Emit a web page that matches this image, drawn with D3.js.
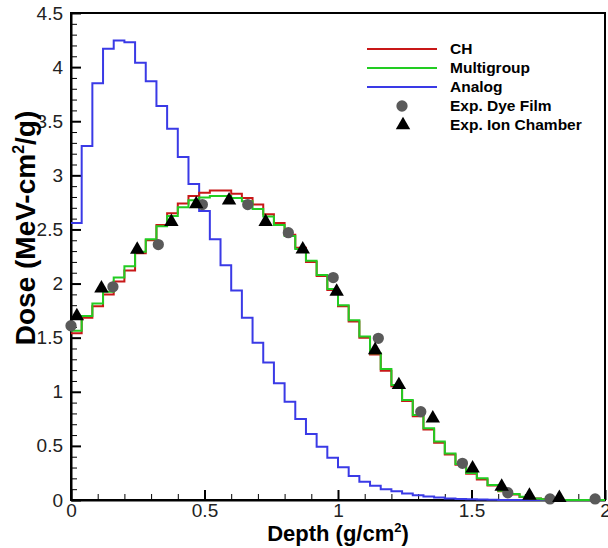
<!DOCTYPE html>
<html>
<head>
<meta charset="utf-8">
<script src="https://cdn.jsdelivr.net/npm/d3@7"></script>
<style>
  html, body { margin: 0; padding: 0; background: #fff; }
  svg { display: block; font-family: "Liberation Sans", Arial, Helvetica, sans-serif; }
</style>
</head>
<body>
<svg id="chart" width="608" height="548"></svg>
<script>
// ---------- data ----------
const binWidth = 0.04; // g/cm^2
const chDose = [1.54, 1.685, 1.79, 1.90, 2.02, 2.12, 2.28, 2.40, 2.54, 2.65,
  2.74, 2.81, 2.84, 2.86, 2.86, 2.83, 2.79, 2.73, 2.64, 2.56,
  2.45, 2.33, 2.20, 2.07, 1.94, 1.79, 1.65, 1.50, 1.345, 1.195,
  1.05, 0.915, 0.775, 0.652, 0.53, 0.42, 0.325, 0.243, 0.19, 0.133,
  0.082, 0.05, 0.028, 0.014, 0.007, 0.003, 0, 0, 0, 0];
const multigroupDose = [1.565, 1.70, 1.815, 1.925, 2.055, 2.16, 2.295, 2.41, 2.53, 2.625,
  2.705, 2.77, 2.795, 2.81, 2.81, 2.79, 2.76, 2.69, 2.62, 2.54,
  2.44, 2.32, 2.21, 2.08, 1.95, 1.80, 1.66, 1.51, 1.356, 1.21,
  1.063, 0.924, 0.786, 0.663, 0.54, 0.43, 0.333, 0.25, 0.20, 0.139,
  0.086, 0.055, 0.03, 0.015, 0.008, 0.004, 0, 0, 0, 0];
const analogDose = [2.56, 3.27, 3.85, 4.17, 4.245, 4.23, 4.04, 3.87, 3.64, 3.43,
  3.17, 2.92, 2.67, 2.41, 2.17, 1.935, 1.685, 1.454, 1.27, 1.078,
  0.909, 0.749, 0.61, 0.493, 0.391, 0.302, 0.222, 0.169, 0.132, 0.10,
  0.08, 0.06, 0.045, 0.032, 0.022, 0.015, 0.01, 0.006, 0.004, 0.002,
  0, 0, 0, 0, 0, 0, 0, 0, 0, 0];
const dyeFilmDepth = [0.0, 0.157, 0.327, 0.492, 0.662, 0.814, 0.982, 1.151, 1.31, 1.466, 1.636, 1.794, 1.963];
const dyeFilmDose  = [1.61, 1.97, 2.36, 2.73, 2.73, 2.47, 2.055, 1.494, 0.816, 0.339, 0.067, 0.01, 0.01];
const ionDepth = [0.022, 0.114, 0.248, 0.376, 0.469, 0.592, 0.729, 0.868, 0.995, 1.139, 1.228, 1.355, 1.504, 1.613, 1.717, 1.829];
const ionDose  = [1.70, 1.955, 2.315, 2.57, 2.735, 2.77, 2.57, 2.317, 1.925, 1.386, 1.063, 0.755, 0.293, 0.123, 0.04, 0.02];
const xTicks = [0, 0.5, 1, 1.5, 2];
const yTicks = [0, 0.5, 1, 1.5, 2, 2.5, 3, 3.5, 4, 4.5];
const legendLabels = ["CH", "Multigroup", "Analog", "Exp. Dye Film", "Exp. Ion Chamber"];

// ---------- layout ----------
const svg = d3.select("#chart");
const m = {left: 71, right: 3, top: 13, bottom: 48};
const W = 608, H = 548;
const x = d3.scaleLinear().domain([0, 2]).range([m.left, W - m.right]);
const y = d3.scaleLinear().domain([0, 4.5]).range([H - m.bottom, m.top]);

const colors = {ch: "#c81818", mg: "#22cc22", an: "#3a3ae6", dye: "#5a5a5a", ion: "#000"};

// minor ticks
const xMinor = d3.range(0, 2.0001, 0.1).filter(v => Math.abs(v*2 - Math.round(v*2)) > 1e-6);
const yMinor = d3.range(0, 4.5001, 0.1).filter(v => Math.abs(v*2 - Math.round(v*2)) > 1e-6);

const g = svg.append("g");

// frame
g.append("rect").attr("x", x(0)).attr("y", y(4.5))
  .attr("width", x(2) - x(0)).attr("height", y(0) - y(4.5))
  .attr("fill", "none").attr("stroke", "#000").attr("stroke-width", 2);

// x axis
const xAxis = d3.axisBottom(x).tickValues(xTicks).tickFormat(d3.format("")).tickSizeInner(-10).tickSizeOuter(0).tickPadding(4);
const xg = g.append("g").attr("transform", `translate(0,${y(0)})`).call(xAxis);
xg.select(".domain").attr("stroke-width", 2);
xg.selectAll(".tick line").attr("stroke-width", 2);
xg.selectAll(".tick text").attr("font-size", 19).attr("fill", "#222").attr("font-family", "Liberation Sans, Arial, sans-serif");
const xAxisMinor = d3.axisBottom(x).tickValues(xMinor).tickFormat("").tickSizeInner(-6).tickSizeOuter(0);
const xgm = g.append("g").attr("transform", `translate(0,${y(0)})`).call(xAxisMinor);
xgm.select(".domain").remove();
xgm.selectAll(".tick line").attr("stroke-width", 1);

// y axis
const yAxis = d3.axisLeft(y).tickValues(yTicks).tickFormat(d3.format("")).tickSizeInner(-10).tickSizeOuter(0).tickPadding(8);
const yg = g.append("g").attr("transform", `translate(${x(0)},0)`).call(yAxis);
yg.select(".domain").attr("stroke-width", 2);
yg.selectAll(".tick line").attr("stroke-width", 2);
yg.selectAll(".tick text").attr("font-size", 19).attr("fill", "#222").attr("font-family", "Liberation Sans, Arial, sans-serif");
const yAxisMinor = d3.axisLeft(y).tickValues(yMinor).tickFormat("").tickSizeInner(-6).tickSizeOuter(0);
const ygm = g.append("g").attr("transform", `translate(${x(0)},0)`).call(yAxisMinor);
ygm.select(".domain").remove();
ygm.selectAll(".tick line").attr("stroke-width", 1);

// axis titles
const xt = svg.append("text").attr("x", 338).attr("y", 541)
  .attr("text-anchor", "middle").attr("font-size", 22).attr("font-weight", "bold").attr("fill", "#000");
xt.append("tspan").text("Depth (g/cm");
xt.append("tspan").attr("font-size", 13).attr("dy", -9).text("2");
xt.append("tspan").attr("dy", 9).text(")");

const yt = svg.append("text").attr("transform", `translate(35,${228}) rotate(-90)`)
  .attr("text-anchor", "middle").attr("font-size", 28).attr("font-weight", "bold").attr("fill", "#000");
yt.append("tspan").text("Dose (MeV-cm");
yt.append("tspan").attr("font-size", 16).attr("dy", -11).text("2");
yt.append("tspan").attr("dy", 11).text("/g)");

// step lines
const stepLine = d3.line().x(d => x(d[0])).y(d => y(d[1])).curve(d3.curveStepAfter);
function stepData(vals) {
  const pts = vals.map((v, i) => [i * binWidth, v]);
  pts.push([vals.length * binWidth, vals[vals.length - 1]]);
  return pts;
}
const plot = svg.append("g");
plot.append("path").attr("d", stepLine(stepData(analogDose))).attr("fill", "none").attr("stroke", colors.an).attr("stroke-width", 2);
plot.append("path").attr("d", stepLine(stepData(chDose))).attr("fill", "none").attr("stroke", colors.ch).attr("stroke-width", 2);
plot.append("path").attr("d", stepLine(stepData(multigroupDose))).attr("fill", "none").attr("stroke", colors.mg).attr("stroke-width", 2);

// experimental points
const circleSym = d3.symbol().type(d3.symbolCircle).size(100);
const triSym = d3.symbol().type(d3.symbolTriangle).size(90);
plot.selectAll("path.dye").data(dyeFilmDepth.map((d, i) => [d, dyeFilmDose[i]])).join("path")
  .attr("class", "dye").attr("d", circleSym).attr("fill", colors.dye)
  .attr("transform", d => `translate(${x(d[0])},${y(d[1])})`);
plot.selectAll("path.ion").data(ionDepth.map((d, i) => [d, ionDose[i]])).join("path")
  .attr("class", "ion").attr("d", triSym).attr("fill", colors.ion)
  .attr("transform", d => `translate(${x(d[0])},${y(d[1])})`);

// legend
const leg = svg.append("g");
const legY0 = 49, legDy = 19;
const legLineX1 = 367, legLineX2 = 437, legTextX = 450;
const lineKeys = [colors.ch, colors.mg, colors.an];
lineKeys.forEach((c, i) => {
  leg.append("line").attr("x1", legLineX1).attr("x2", legLineX2)
    .attr("y1", legY0 + i * legDy).attr("y2", legY0 + i * legDy)
    .attr("stroke", c).attr("stroke-width", 2);
});
leg.append("path").attr("d", circleSym).attr("fill", colors.dye)
  .attr("transform", `translate(${(legLineX1 + legLineX2) / 2},${legY0 + 3 * legDy})`);
leg.append("path").attr("d", triSym).attr("fill", colors.ion)
  .attr("transform", `translate(${(legLineX1 + legLineX2) / 2 + 1},${legY0 + 4 * legDy})`);
legendLabels.forEach((t, i) => {
  leg.append("text").attr("x", legTextX).attr("y", legY0 + i * legDy).attr("dy", "0.35em")
    .attr("font-size", 15.5).attr("font-weight", "bold").attr("fill", "#000").text(t);
});
</script>
</body>
</html>
